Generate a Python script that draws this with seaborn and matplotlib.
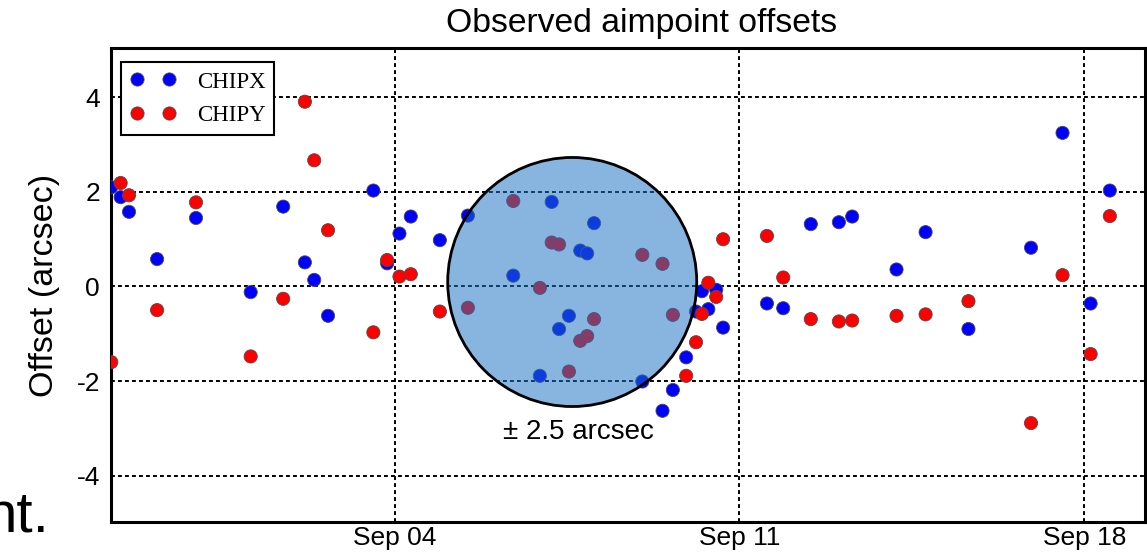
import matplotlib
matplotlib.use('Agg')
import matplotlib.pyplot as plt
import matplotlib.dates as mdates
from matplotlib.lines import Line2D
from matplotlib.patches import Ellipse
import seaborn as sns
import pandas as pd
import numpy as np

# observation times, days after Sep 04 00:00
obs_day = [-5.75, -5.56, -5.39, -4.82, -4.03, -2.92, -2.26, -1.82, -1.63, -1.35,
           -0.43, -0.15, 0.10, 0.33, 0.92, 1.49, 2.41, 2.95, 3.19, 3.34,
           3.54, 3.77, 3.91, 4.05, 5.03, 5.44, 5.65, 5.92, 6.12, 6.24,
           6.37, 6.53, 6.67, 7.56, 7.89, 8.45, 9.02, 9.29, 10.19, 10.78,
           11.65, 12.92, 13.56, 14.13, 14.52]
chipx = [2.10, 1.89, 1.58, 0.58, 1.45, -0.12, 1.69, 0.51, 0.14, -0.62,
         2.03, 0.49, 1.12, 1.48, 0.98, 1.50, 0.23, -1.89, 1.79, -0.90,
         -0.62, 0.76, 0.70, 1.34, -2.01, -2.63, -2.19, -1.50, -0.53, -0.10,
         -0.48, -0.07, -0.87, -0.36, -0.46, 1.32, 1.36, 1.48, 0.36, 1.15,
         -0.90, 0.82, 3.25, -0.36, 2.03]
chipy = [-1.60, 2.19, 1.93, -0.50, 1.78, -1.48, -0.26, 3.91, 2.67, 1.19,
         -0.97, 0.56, 0.21, 0.26, -0.53, -0.45, 1.81, -0.03, 0.93, 0.89,
         -1.80, -1.15, -1.05, -0.69, 0.67, 0.48, -0.60, -1.89, -1.18, -0.58,
         0.08, -0.22, 1.00, 1.07, 0.19, -0.69, -0.74, -0.72, -0.62, -0.59,
         -0.31, -2.89, 0.24, -1.43, 1.49]
chip_names = ['CHIPX', 'CHIPY']
chip_colors = {'CHIPX': '#0000ff', 'CHIPY': '#ff0000'}
tick_dates = ['2014-09-04', '2014-09-11', '2014-09-18']

start = pd.Timestamp('2014-09-04')
times = start + pd.to_timedelta(obs_day, unit='D')
df = pd.concat([
    pd.DataFrame({'time': times, 'offset': chipx, 'chip': 'CHIPX'}),
    pd.DataFrame({'time': times, 'offset': chipy, 'chip': 'CHIPY'}),
], ignore_index=True)

sns.set_theme(style='white')
plt.rcParams['font.family'] = ['Liberation Sans', 'DejaVu Sans']
plt.rcParams['text.color'] = 'black'
plt.rcParams['axes.labelcolor'] = 'black'
plt.rcParams['axes.unicode_minus'] = False

fig = plt.figure(figsize=(11.47, 5.54), dpi=100)
ax = fig.add_axes([0.0968, 0.0572, 0.9015, 0.8556])

sns.scatterplot(data=df, x='time', y='offset', hue='chip', hue_order=chip_names,
                palette=chip_colors, s=90, edgecolor='0.3', linewidth=0.6,
                legend=False, ax=ax, zorder=3)

# +/- 2.5 arcsec region
centre = (mdates.date2num(start + pd.Timedelta(days=3.607)), 0.095)
ax.add_patch(Ellipse(centre, width=5.055, height=5.27, facecolor='#1a72c4',
                     alpha=0.52, edgecolor='none', zorder=4))
ax.add_patch(Ellipse(centre, width=5.055, height=5.27, facecolor='none',
                     edgecolor='black', linewidth=2.0, zorder=5))
ax.text(start + pd.Timedelta(days=3.74), -3.08, '± 2.5 arcsec', ha='center',
        va='center', fontsize=20, zorder=6)

ax.set_xlim(start - pd.Timedelta(days=5.755), start + pd.Timedelta(days=15.235))
ax.set_ylim(-4.99, 5.04)
ax.set_xticks(pd.to_datetime(tick_dates))
ax.xaxis.set_major_formatter(mdates.DateFormatter('%b %d'))
ax.set_yticks([-4, -2, 0, 2, 4])
ax.tick_params(length=0, labelsize=19, colors='black')
ax.tick_params(axis='y', pad=8)
ax.tick_params(axis='x', pad=3)
ax.grid(True, color='black', linestyle=(0, (2, 1.6)), linewidth=1.4)
ax.set_axisbelow(True)
for sp in ax.spines.values():
    sp.set_color('black')
    sp.set_linewidth(2.2)

ax.set_xlabel('')
ax.set_ylabel('Offset (arcsec)', fontsize=24.5, labelpad=12)
ax.set_title('Observed aimpoint offsets', fontsize=24.3, pad=11.5, x=0.513)

handles = [Line2D([], [], linestyle='none', marker='o', markersize=9.5,
                  markerfacecolor=chip_colors[c], markeredgecolor='0.3',
                  markeredgewidth=0.6, label=c) for c in chip_names]
leg = ax.legend(handles=handles, loc='upper left', numpoints=2, fancybox=False,
                prop={'family': 'Liberation Serif', 'size': 16.5},
                bbox_to_anchor=(0.0097, 0.9705), borderaxespad=0,
                borderpad=0.4, handlelength=2.0, handletextpad=0.9,
                labelspacing=0.55, framealpha=1)
leg.get_frame().set_edgecolor('black')
leg.get_frame().set_linewidth(1.5)

fig.text(49 / 1147, 1 - 532 / 554, 'nt.', ha='right', va='baseline', fontsize=42)

fig.savefig('out.png', dpi=100)
